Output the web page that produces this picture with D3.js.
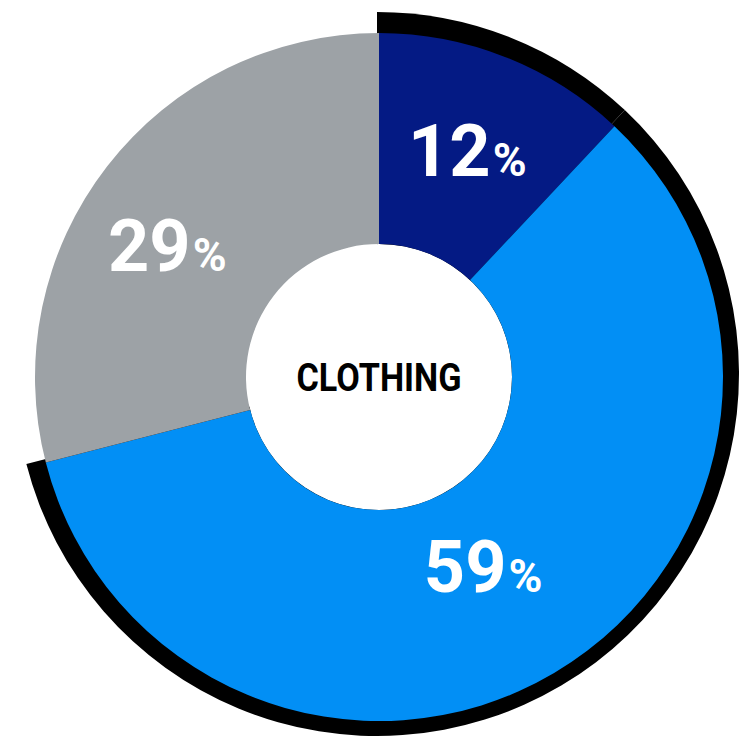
<!DOCTYPE html>
<html>
<head>
<meta charset="utf-8">
<script src="https://cdn.jsdelivr.net/npm/d3@7/dist/d3.min.js"></script>
<style>
  html, body { margin: 0; padding: 0; background: #ffffff; }
  svg { display: block; }
</style>
</head>
<body>
<svg id="chart" width="751" height="741"></svg>
<script>
// Share of spending by segment
const categories = ["Segment A", "Segment B", "Segment C"];
const values = [12, 59, 29];
const colors = ["#041a84", "#028ff5", "#9da2a6"];
const highlighted = [true, true, false];
const centerLabel = "CLOTHING";

const width = 751, height = 741;
const cx = 379, cy = 377;
const innerR = 133, outerR = 344;
const ringR = 362;

// hand-tuned label offsets from each slice's centroid
const labelNudge = [[0, -3], [-18, -17], [-22, 15]];

const svg = d3.select("#chart");

const pie = d3.pie().sort(null).value(d => d);
const arcs = pie(values);

const arc = d3.arc().innerRadius(innerR).outerRadius(outerR);
const labelArc = d3.arc().innerRadius(240).outerRadius(240);
const ringArc = d3.arc().innerRadius(0).outerRadius(ringR);

// black highlight band behind the selected slices
svg.append("g")
  .attr("transform", `translate(${cx - 2},${cy - 3})`)
  .selectAll("path")
  .data(arcs.filter((d, i) => highlighted[i]))
  .join("path")
  .attr("d", ringArc)
  .attr("fill", "#000");

const g = svg.append("g").attr("transform", `translate(${cx},${cy})`);

// white disc so the hole stays clean over the band
g.append("circle").attr("r", innerR).attr("fill", "#fff");

g.selectAll("path.slice")
  .data(arcs)
  .join("path")
  .attr("class", "slice")
  .attr("d", arc)
  .attr("fill", (d, i) => colors[i]);

const numSize = 72, pctSize = 46;
const capH = numSize * 0.711;

const labels = g.selectAll("text.val")
  .data(arcs)
  .join("text")
  .attr("class", "val")
  .attr("text-anchor", "middle")
  .attr("font-family", "Roboto, 'Noto Sans', sans-serif")
  .attr("font-weight", 700)
  .attr("fill", "#fff")
  .attr("x", (d, i) => labelArc.centroid(d)[0] + labelNudge[i][0])
  .attr("y", (d, i) => labelArc.centroid(d)[1] + labelNudge[i][1] + capH / 2);

labels.append("tspan").attr("font-size", numSize).text(d => d.data);
labels.append("tspan").attr("font-size", pctSize).attr("dx", 2).text("%");

g.append("text")
  .attr("text-anchor", "middle")
  .attr("x", 0)
  .attr("y", 14)
  .attr("font-family", "Roboto, 'Noto Sans', sans-serif")
  .attr("font-weight", 700)
  .attr("font-size", 38)
  .attr("fill", "#000")
  .attr("textLength", 165)
  .attr("lengthAdjust", "spacingAndGlyphs")
  .text(centerLabel);
</script>
</body>
</html>
